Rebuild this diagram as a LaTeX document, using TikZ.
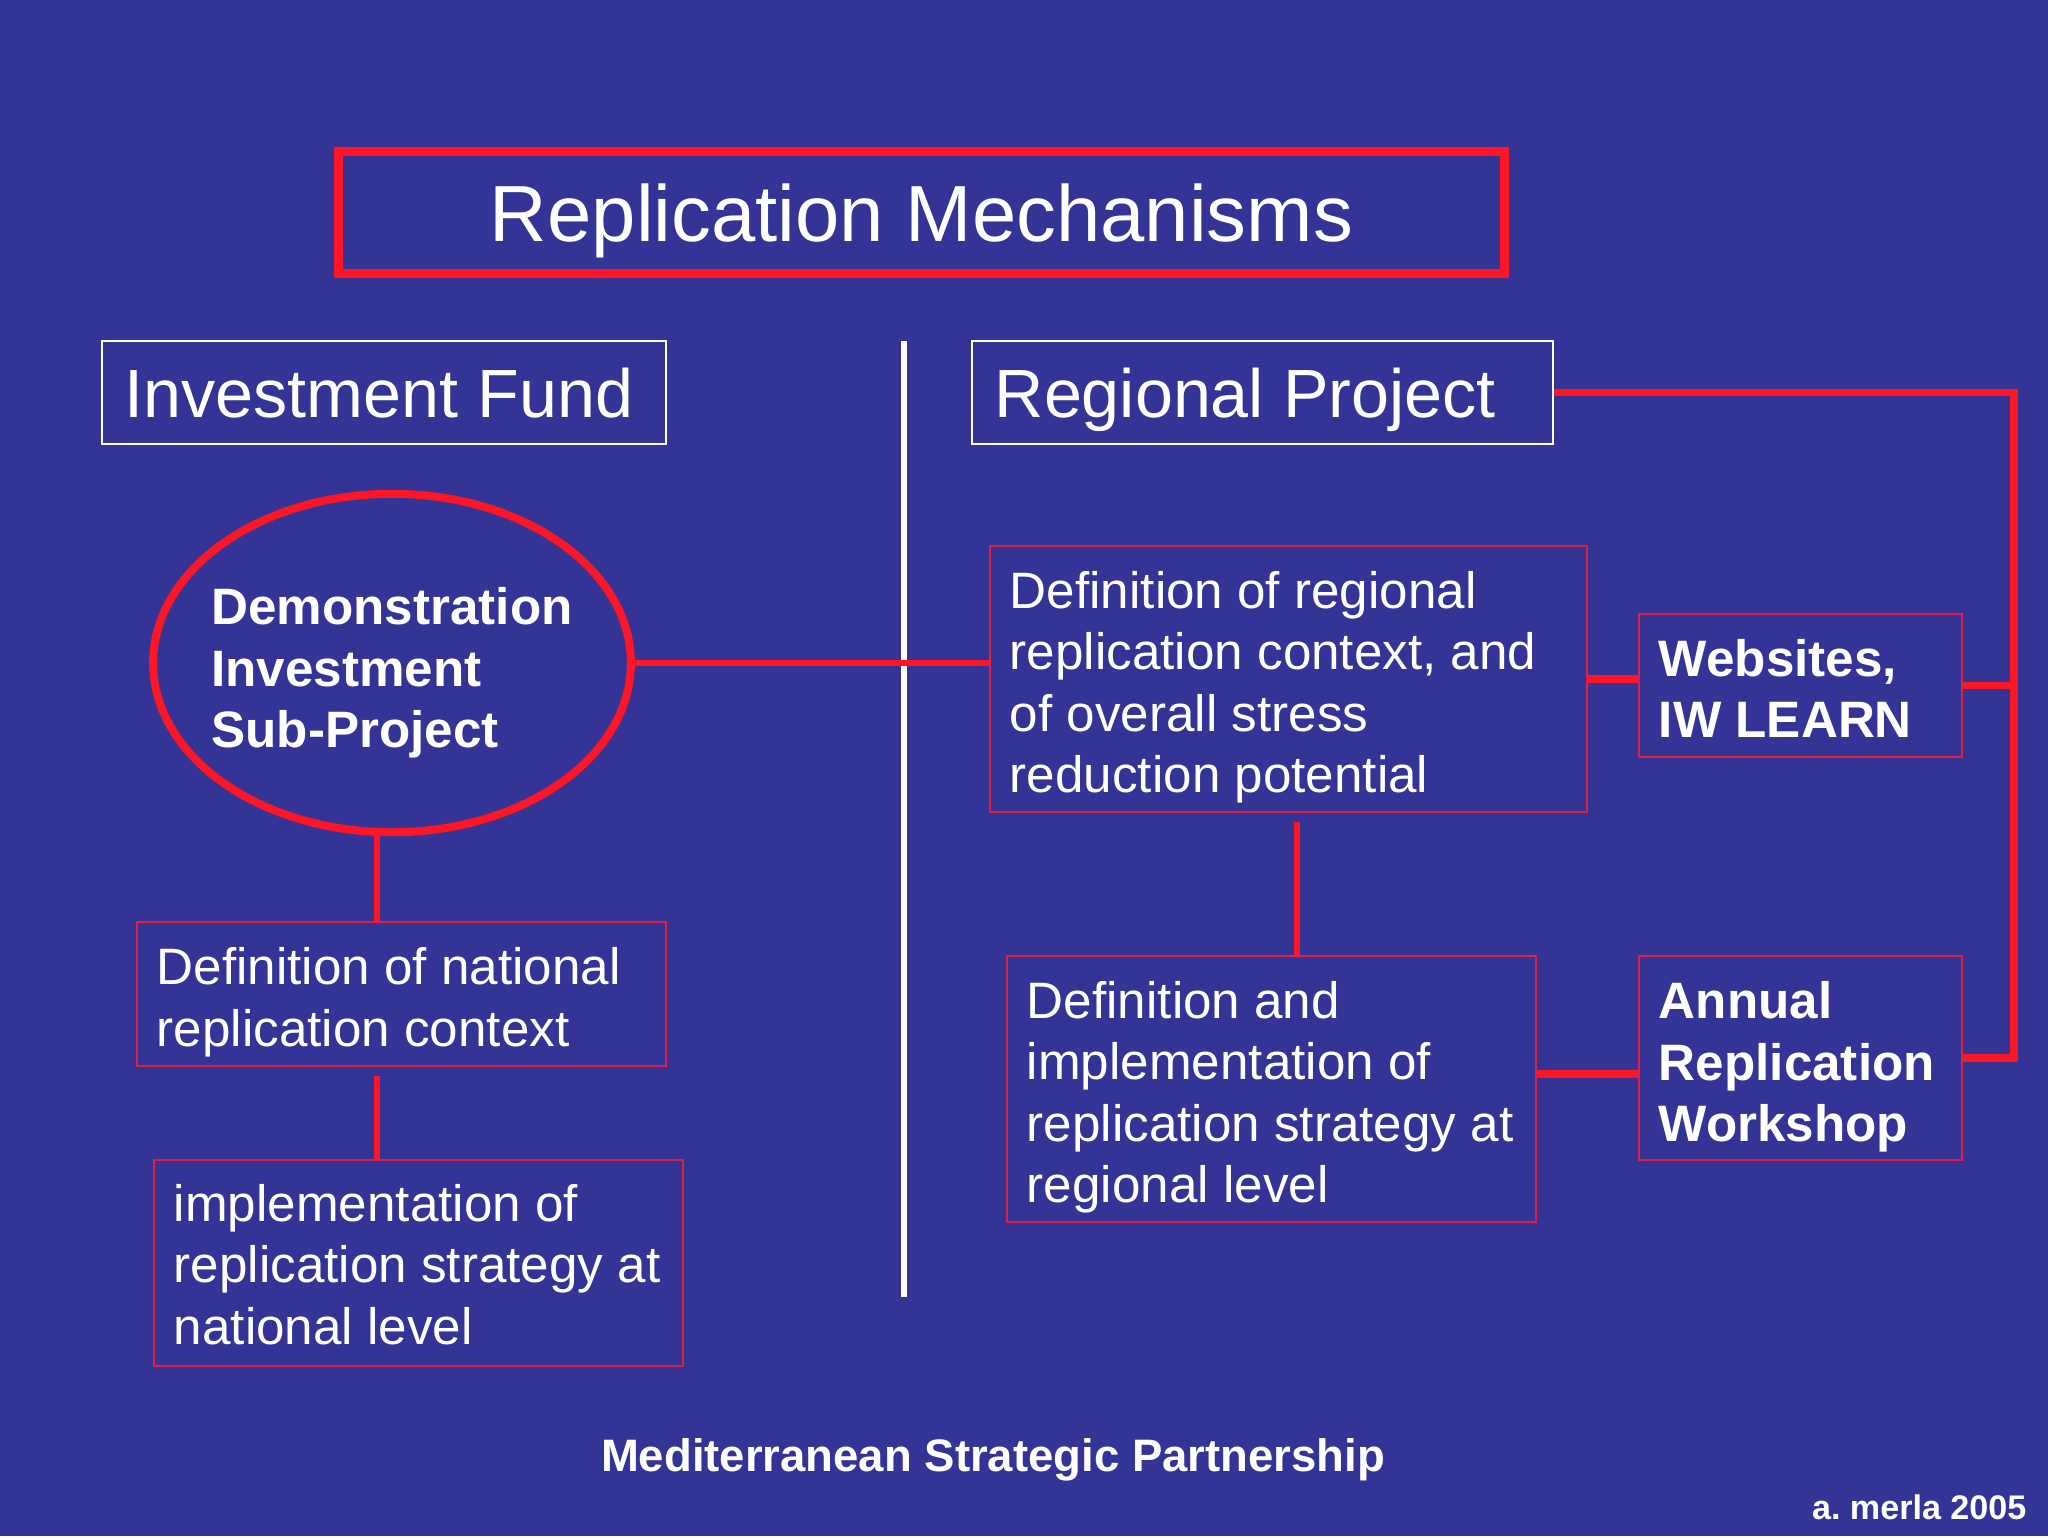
\documentclass[tikz,border=0pt]{standalone}
\usepackage{fontspec}
\setmainfont{Liberation Sans}
\usetikzlibrary{shapes.geometric,calc}
\definecolor{slidebg}{RGB}{52,52,150}
\definecolor{linkred}{RGB}{255,22,38}
\definecolor{boxred}{RGB}{225,30,70}
\begin{document}
\begin{tikzpicture}[
        x=0.3516pt, y=-0.3516pt,
        every node/.style={text=white, inner sep=0pt},
        titlen/.style={draw=linkred, line width=3.4pt, minimum width=410pt, minimum height=43pt, text depth=-2.5pt, font=\fontsize{28pt}{33.6pt}\selectfont},
        headn/.style={draw=white, line width=0.7pt, align=flush left, inner xsep=8pt, minimum height=36.2pt, text depth=-1pt, font=\fontsize{24pt}{28.8pt}\selectfont},
        boxn/.style={draw=boxred, line width=0.7pt, align=flush left, inner xsep=7pt, text height=18.8pt, font=\fontsize{18pt}{21.6pt}\selectfont},
        boldn/.style={boxn, font=\fontsize{18pt}{21.6pt}\selectfont\bfseries},
        demon/.style={draw=linkred, ellipse, line width=2.8pt, minimum width=168pt, minimum height=119pt},
        link/.style={draw=linkred, line width=2.3pt},
        rail/.style={draw=linkred, line width=2.5pt},
    ]
    \fill[slidebg] (0,0) rectangle (2048,1536);
    \node[titlen] (title) at (921.5,212.5) {Replication Mechanisms};
    \node[headn, text width=182.3pt] (fund) at (384,392.5) {Investment Fund};
    \node[headn, text width=188.3pt] (regproj) at (1262.5,392.5) {Regional Project};
    % divider between the two columns
    \draw[white, line width=2pt] (904,341) -- (904,1297);

    % left column
    \node[demon] (demo) at (392,663) {};
    \node[font=\fontsize{18pt}{21.6pt}\selectfont\bfseries, align=flush left] (demotext) at (392,673) {Demonstration\\Investment\\Sub-Project};
    \node[boxn, text width=172pt, minimum height=50.6pt] (natctx) at (401.5,994) {Definition of national\\replication context};
    \node[boxn, text width=172pt, minimum height=72.4pt, text height=14.2pt] (natimpl) at (418.5,1263) {implementation of\\replication strategy at\\national level};

    % right column
    \node[boxn, text width=195.9pt, minimum height=93.5pt] (regctx) at (1288.5,679) {Definition of regional\\replication context, and\\of overall stress\\reduction potential};
    \node[boxn, text width=172pt, minimum height=93.5pt] (regimpl) at (1271.5,1089) {Definition and\\implementation of\\replication strategy at\\regional level};
    \node[boldn, text width=99.6pt, minimum height=50.3pt, text height=15.2pt] (web) at (1800.5,685.5) {Websites,\\IW LEARN};
    \node[boldn, text width=99.6pt, minimum height=71.7pt, text height=19.3pt] (workshop) at (1800.5,1058) {Annual\\Replication\\Workshop};
    \coordinate (rail) at (2014,392.5);
    \coordinate (mid) at ($(regimpl.east)!0.5!(workshop.west)$);

    \draw[link] (demo.east) -- (demo.east -| regctx.west);
    \draw[link] (demo.-95) -- (demo.-95 |- natctx.north);
    \draw[link, shorten <=3pt] (demo.-95 |- natctx.south) -- (demo.-95 |- natimpl.north);
    \draw[link, shorten <=3pt] ([xshift=3pt]regctx.south) -- ([xshift=3pt]regctx.south |- regimpl.north);
    \draw[link, line width=2.8pt] (regctx.east) -- (regctx.east -| web.west);
    \draw[link, line width=2.8pt] (regimpl.east |- mid) -- (workshop.west |- mid);
    \draw[rail] (regproj.east) -| (rail |- workshop.east) -- (workshop.east);
    \draw[rail] (web.east) -- (web.east -| rail);

    \node[font=\fontsize{16pt}{19.2pt}\selectfont\bfseries] (msp) at (993,1460) {Mediterranean Strategic Partnership};
    \node[anchor=east, font=\fontsize{12pt}{14.4pt}\selectfont\bfseries] (sign) at (2027,1507) {a.\ merla 2005};
\end{tikzpicture}
\end{document}
